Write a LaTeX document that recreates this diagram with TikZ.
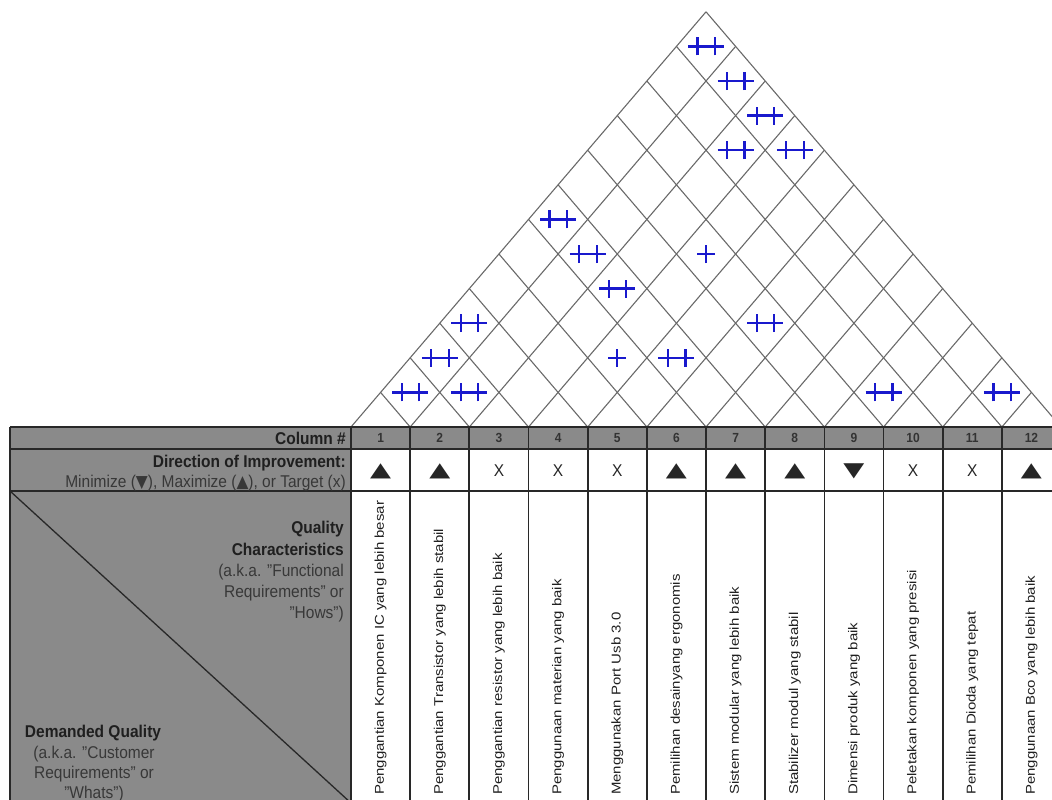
\documentclass[tikz,border=0pt]{standalone}
\usepackage{fontspec}
\setmainfont{Liberation Sans}
\newfontfamily\symfont{DejaVu Sans}
\usepackage{graphicx}
\definecolor{hqgray}{RGB}{138,138,138}
\definecolor{hqline}{RGB}{40,40,40}
\definecolor{roofc}{RGB}{105,105,105}
\definecolor{corrblue}{RGB}{25,25,205}
\newcommand{\tallbox}[1]{\scalebox{1}[1.1]{#1}}
\newcommand{\longbox}[1]{\scalebox{1.17}[1]{#1}}
\newcommand{\dirup}{\scalebox{1.3}[0.86]{\symfont\fontsize{21}{22}\selectfont ▲}}
\newcommand{\dirdown}{\scalebox{1.3}[0.86]{\symfont\fontsize{21}{22}\selectfont ▼}}
\newcommand{\dirx}{X}

\begin{document}
\begin{tikzpicture}[x=1pt,y=-1pt,
    grid/.style={line width=1.7pt,hqline},
    roof/.style={line width=1.1pt,roofc},
    lbl/.style={anchor=base east,inner sep=0pt,text=black!88,font=\bfseries\fontsize{15.5}{18}\selectfont},
    sublbl/.style={lbl,text=black!78,font=\fontsize{15.5}{18}\selectfont},
    dqlbl/.style={anchor=base,inner sep=0pt,text=black!88,font=\bfseries\fontsize{15.5}{18}\selectfont},
    dqsub/.style={dqlbl,text=black!78,font=\fontsize{15.5}{18}\selectfont},
    colno/.style={inner sep=0pt,text=black!80,font=\bfseries\fontsize{12}{14}\selectfont},
    dirmark/.style={inner sep=0pt,text=black!85,font=\fontsize{15.5}{18}\selectfont},
    coltitle/.style={rotate=90,anchor=west,inner sep=0pt,text=black!88,font=\fontsize{12.8}{15}\selectfont},
    dplus/.pic={\draw[corrblue,line width=2.3pt] (-18pt,0pt) -- (18pt,0pt)
        (-8.5pt,-9pt) -- (-8.5pt,9pt) (9pt,-9pt) -- (9pt,9pt);},
    splus/.pic={\draw[corrblue,line width=2.3pt] (-9pt,0pt) -- (9pt,0pt)
        (0pt,-9pt) -- (0pt,9pt);}]
  \useasboundingbox (0,0) rectangle (1052,800);
  \clip (0,0) rectangle (1052,800);

  % gray header areas
  \fill[hqgray] (10,427) rectangle (1062,449);
  \fill[hqgray] (10,449) rectangle (351,810);

  % roof: 12 columns, cell (i,j) centred at (i+j-1, j-i)
  \begin{scope}[xshift=351pt,yshift=-427pt,x=29.585pt,y=34.6pt]
    \foreach \k in {0,...,12} {
      \draw[roof] (2*\k,0) -- ({12+\k},{12-\k});
      \draw[roof] (2*\k,0) -- (\k,\k);
    }
    \foreach \i/\j in {1/12,2/12,3/12,3/11,4/12,1/7,2/7,3/7,1/4,1/3,1/2,2/3,5/7,6/9,9/10,11/12}
      \pic at ({\i+\j-1},{\j-\i}) {dplus};
    \foreach \i/\j in {4/9,4/6}
      \pic at ({\i+\j-1},{\j-\i}) {splus};
  \end{scope}

  % table rules
  \draw[grid] (10,427) -- (1062,427) (10,449) -- (1062,449) (10,491) -- (1062,491);
  \draw[grid] (10,427) -- (10,810);
  \foreach \k in {0,...,12}
    \draw[grid] ({351+\k*59.17},427) -- ({351+\k*59.17},810);
  \draw[hqline,line width=1.3pt] (10,491) -- (351,803);

  % row labels
  \node[lbl] (colhdr) at (346,444) {\tallbox{Column \#}};
  \node[lbl] (dirhdr) at (346,467) {\tallbox{Direction of Improvement:}};
  \node[sublbl] (dirsub) at (346,487) {\tallbox{Minimize ({\symfont ▼}), Maximize ({\symfont ▲}), or Target (x)}};
  \node[lbl] (qc1) at (344,533) {\tallbox{Quality}};
  \node[lbl] (qc2) at (344,555) {\tallbox{Characteristics}};
  \node[sublbl] (qc3) at (344,576) {\tallbox{(a.k.a. "Functional}};
  \node[sublbl] (qc4) at (344,597) {\tallbox{Requirements" or}};
  \node[sublbl] (qc5) at (344,618) {\tallbox{"Hows")}};
  \node[dqlbl] (dq1) at (93,737) {\tallbox{Demanded Quality}};
  \node[dqsub] (dq2) at (94,758) {\tallbox{(a.k.a. "Customer}};
  \node[dqsub] (dq3) at (94,778) {\tallbox{Requirements" or}};
  \node[dqsub] (dq4) at (94,798) {\tallbox{"Whats")}};

  % column numbers and directions
  \foreach \k in {1,...,12}
    \node[colno] (num\k) at ({351+(\k-0.5)*59.17},438) {\tallbox{\k}};
  \foreach \k/\d in {1/\dirup,2/\dirup,3/\dirx,4/\dirx,5/\dirx,6/\dirup,
                     7/\dirup,8/\dirup,9/\dirdown,10/\dirx,11/\dirx,12/\dirup}
    \node[dirmark] (dir\k) at ({351+(\k-0.5)*59.17},471) {\tallbox{\d}};

  % quality characteristics (hows)
  \foreach \k/\t in {1/Penggantian Komponen IC yang lebih besar,
                     2/Penggantian Transistor yang lebih stabil,
                     3/Penggantian resistor yang lebih baik,
                     4/Penggunaan materian yang baik,
                     5/Menggunakan Port Usb 3.0,
                     6/Pemilihan desainyang ergonomis,
                     7/Sistem modular yang lebih baik,
                     8/Stabilizer modul yang stabil,
                     9/Dimensi produk yang baik,
                     10/Peletakan komponen yang presisi,
                     11/Pemilihan Dioda yang tepat,
                     12/Penggunaan Bco yang lebih baik}
    \node[coltitle] (how\k) at ({351+(\k-0.5)*59.17},795) {\longbox{\t}};
\end{tikzpicture}
\end{document}
